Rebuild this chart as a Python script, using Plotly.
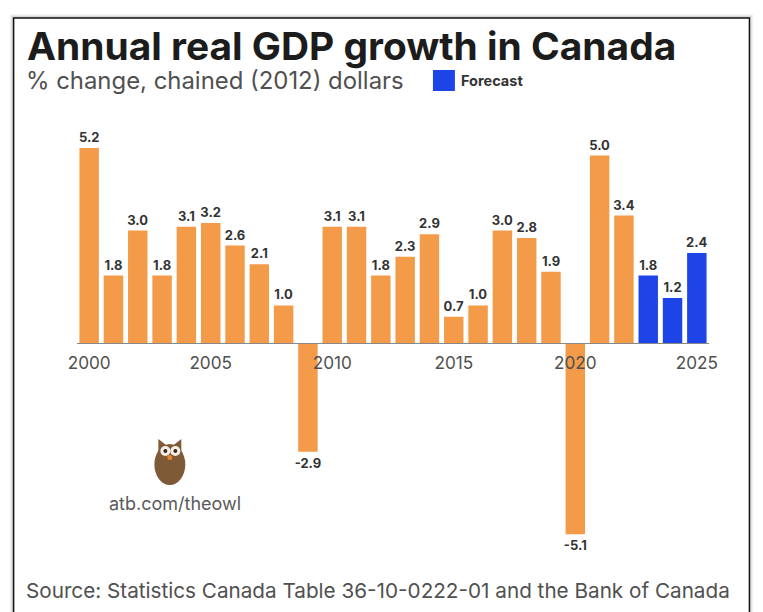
import plotly.graph_objects as go

years = list(range(2000, 2023))
values = [5.2, 1.8, 3.0, 1.8, 3.1, 3.2, 2.6, 2.1, 1.0, -2.9, 3.1, 3.1, 1.8, 2.3, 2.9, 0.7, 1.0, 3.0, 2.8, 1.9, -5.1, 5.0, 3.4]
forecast_years = [2023, 2024, 2025]
forecast_values = [1.8, 1.2, 2.4]
x_ticks = [2000, 2005, 2010, 2015, 2020, 2025]

TITLE = "Annual real GDP growth in Canada"
SUBTITLE = "% change, chained (2012) dollars"
LEGEND = "Forecast"
SOURCE = "Source: Statistics Canada Table 36-10-0222-01 and the Bank of Canada"
OWL = "atb.com/theowl"

W, H = 763, 612
L, R, T, B = 76.5, 709.5, 130, 545
ORANGE = "#F39B48"
BLUE = "#1D44E6"
DARK = "#333333"

def px(x): return (x - L) / (R - L)
def py(y): return (B - y) / (B - T)

fig = go.Figure()
for xs, ys, color in [(years, values, ORANGE), (forecast_years, forecast_values, BLUE)]:
    fig.add_bar(x=xs, y=ys, width=0.8, marker=dict(color=color, line_width=0),
                text=[f"{v:.1f}" for v in ys], textposition="outside", cliponaxis=False,
                constraintext="none",
                textfont=dict(family="Inter", size=13, color=DARK, weight=700),
                showlegend=False, hoverinfo="skip")

def note(x, y, text, size, color=DARK, weight=400):
    fig.add_annotation(xref="paper", yref="paper", x=px(x), y=py(y), text=text, showarrow=False,
                       xanchor="left", yanchor="middle",
                       font=dict(family="Inter", size=size, color=color, weight=weight))

note(24, 45.5, TITLE, 38.9, "#1c1c1c", 700)
note(23, 80, SUBTITLE, 23.9, "#505050")
note(459, 80, LEGEND, 14.5, DARK, 700)
note(23, 590, SOURCE, 20.7, "#505050")
note(107, 503, OWL, 18, "#5a5a5a")

def rect(x0, y0, x1, y1, **kw):
    fig.add_shape(type="rect", xref="paper", yref="paper", x0=px(x0), x1=px(x1), y0=py(y0), y1=py(y1), **kw)

def oval(x0, y0, x1, y1, color):
    fig.add_shape(type="circle", xref="paper", yref="paper", x0=px(x0), x1=px(x1), y0=py(y0), y1=py(y1),
                  fillcolor=color, line_width=0)

# card shadow and border
for i, a in enumerate([0.03, 0.05, 0.08]):
    rect(13 - 4 + i, 18 - 4 + i, 750 + 4 - i, 640, fillcolor=f"rgba(0,0,0,{a})", line_width=0, layer="below")
rect(13, 18, 750, 640, fillcolor="white", line=dict(color="#111111", width=1.5), layer="below")
# legend swatch
rect(433, 70, 455, 91, fillcolor=BLUE, line_width=0)

# owl
BROWN = "#7F5A36"
oval(154, 444, 185, 485, BROWN)
for tri in [[(158, 452), (158, 439), (167, 446)], [(181, 452), (181, 439), (172, 446)]]:
    path = "M " + " L ".join(f"{px(a):.5f} {py(b):.5f}" for a, b in tri) + " Z"
    fig.add_shape(type="path", xref="paper", yref="paper", path=path, fillcolor=BROWN, line_width=0)
oval(160, 446, 170, 456, "#f4efe8")
oval(170, 446, 180, 456, "#f4efe8")
oval(163, 449, 167, 453, "#3a2a1c")
oval(173, 449, 177, 453, "#3a2a1c")
oval(167, 455, 172, 460, "#E8872E")

zero_pos = (B - 343) / (B - T)
fig.update_layout(
    width=W, height=H, autosize=False,
    margin=dict(l=L, r=W - R, t=T, b=H - B, pad=0),
    paper_bgcolor="white", plot_bgcolor="rgba(0,0,0,0)",
    barmode="overlay", showlegend=False,
    xaxis=dict(range=[1999.5, 2025.5], tickmode="array", tickvals=x_ticks, ticktext=[str(v) for v in x_ticks],
               anchor="free", position=zero_pos, showgrid=False, zeroline=False,
               showline=True, linecolor="#888888", linewidth=1,
               ticks="outside", ticklen=4, tickcolor="rgba(0,0,0,0)",
               tickfont=dict(family="Inter", size=17.2, color="#505050")),
    yaxis=dict(range=[-5.387, 5.68], visible=False, showgrid=False, zeroline=False),
)

fig.write_html("out.html", config={"displayModeBar": False}, post_script="document.body.style.margin='0';")
